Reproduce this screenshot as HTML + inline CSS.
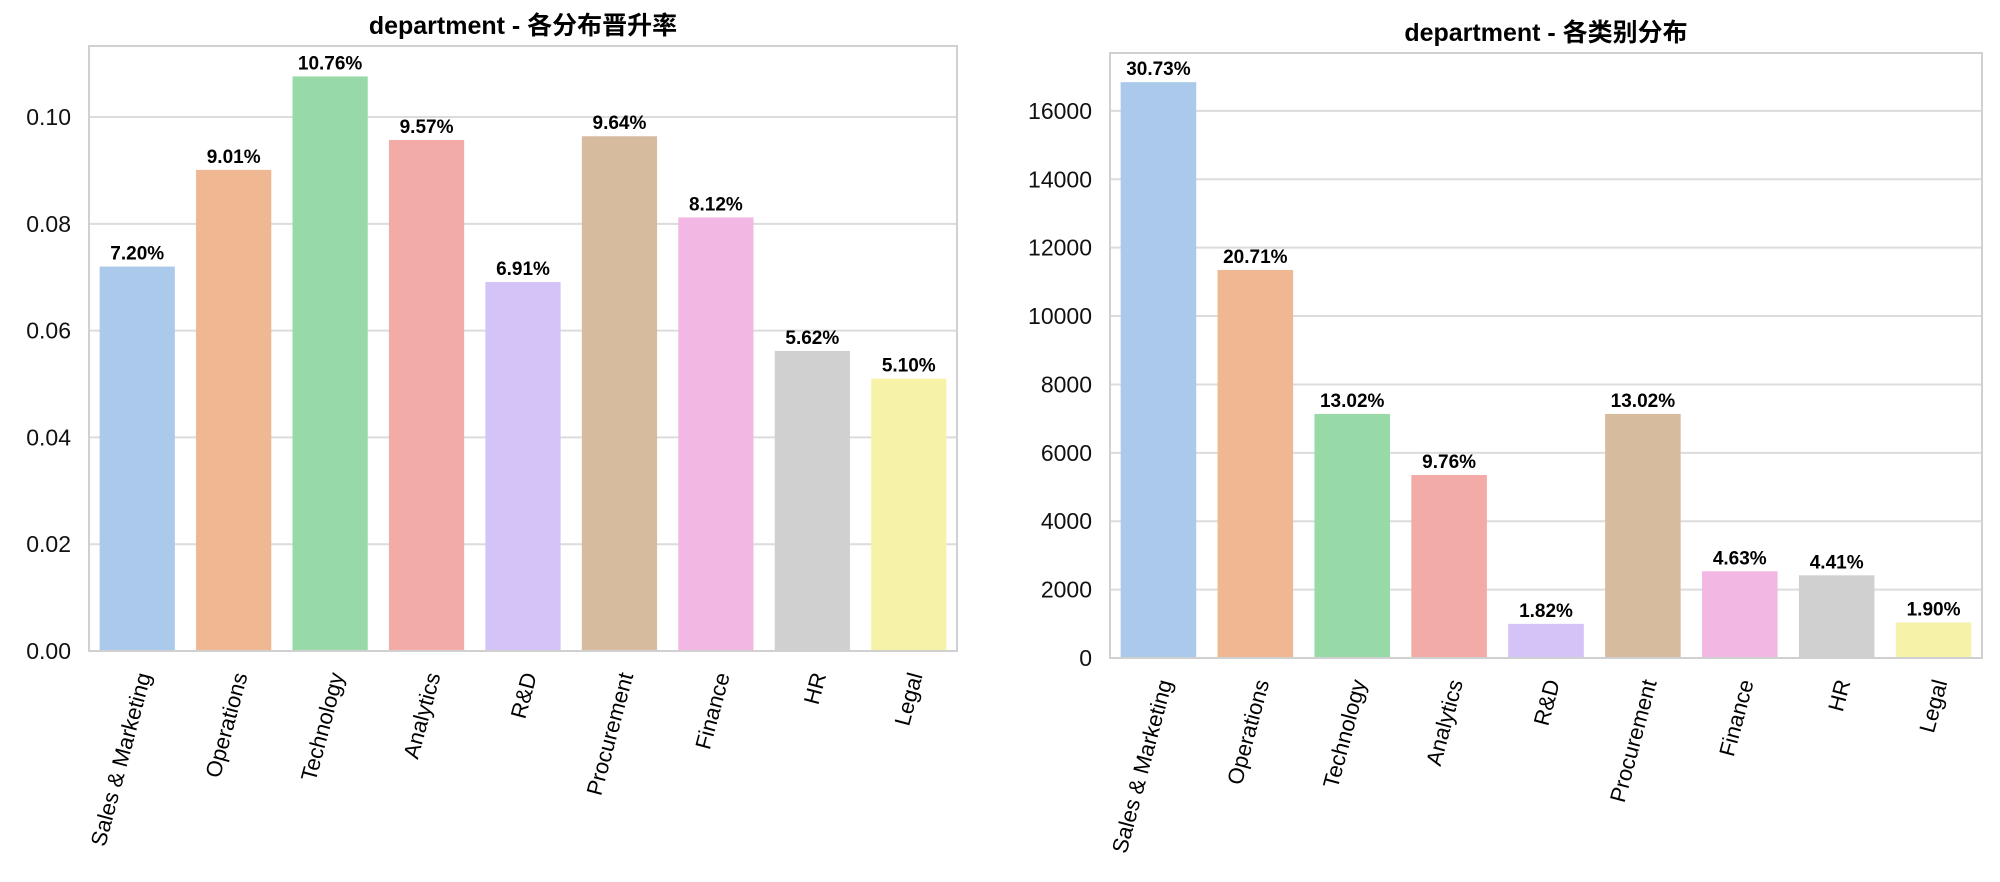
<!DOCTYPE html>
<html><head><meta charset="utf-8">
<style>
html,body{margin:0;padding:0;background:#fff;}
svg{display:block;font-family:"Liberation Sans","Noto Sans CJK SC",sans-serif;}
</style></head>
<body>
<svg id="chart" width="2000" height="882" viewBox="0 0 2000 882" xmlns="http://www.w3.org/2000/svg"></svg>
<script>
const categories = ["Sales & Marketing","Operations","Technology","Analytics","R&D","Procurement","Finance","HR","Legal"];
const promotionRates = [0.0720,0.0901,0.1076,0.0957,0.0691,0.0964,0.0812,0.0562,0.0510];
const rateLabels = ["7.20%","9.01%","10.76%","9.57%","6.91%","9.64%","8.12%","5.62%","5.10%"];
const counts = [16840,11348,7138,5352,999,7138,2536,2418,1039];
const countLabels = ["30.73%","20.71%","13.02%","9.76%","1.82%","13.02%","4.63%","4.41%","1.90%"];
const leftTicks = [0,0.02,0.04,0.06,0.08,0.10];
const leftTickLabels = ["0.00","0.02","0.04","0.06","0.08","0.10"];
const rightTicks = [0,2000,4000,6000,8000,10000,12000,14000,16000];
const rightTickLabels = ["0","2000","4000","6000","8000","10000","12000","14000","16000"];
const barColors = ["#abc9ea","#efb792","#98daa7","#f3aba8","#d3c3f7","#d7bb9f","#f2b7e2","#d0d0d0","#f6f3a8"];

const svg = document.getElementById('chart');
const NS = "http://www.w3.org/2000/svg";
function mk(tag, attrs, parent){
  const e = document.createElementNS(NS, tag);
  for (const k in attrs) e.setAttribute(k, attrs[k]);
  (parent||svg).appendChild(e);
  return e;
}

function drawPanel(cfg){
  const g = mk('g', {});
  
  
  const {x0,x1,yTop,yBot,ymax} = cfg;
  const ys = v => yBot - (v/ymax)*(yBot-yTop);
  const band = (x1-x0)/categories.length;
  const xc = i => x0 + band*(i+0.5);
  cfg.ticks.forEach((t,i)=>{
    const y = ys(t);
    if (t>0){
      const gl = mk('line',{x1:x0,x2:x1,y1:y,y2:y,stroke:'#dcdcdc','stroke-width':2},g);
      
      
    }
    const tl = mk('text',{x:x0-18,y:y+8,'text-anchor':'end','font-size':23,fill:'#111'},g);
    tl.textContent = cfg.tickLabels[i];
    
    
  });
  cfg.values.forEach((v,i)=>{
    const w = band*0.78;
    const b = mk('rect',{x:xc(i)-w/2,y:ys(v),width:w,height:yBot-ys(v),fill:barColors[i]},g);
    
    
    const lb = mk('text',{x:xc(i),y:ys(v)-7,'text-anchor':'middle','font-size':19,'font-weight':'bold',fill:'#000'},g);
    lb.textContent = cfg.labels[i];
    
    
    const cl = mk('text',{x:0,y:0,'text-anchor':'end','font-size':22,fill:'#000',
      transform:`translate(${xc(i)+14},${yBot+24}) rotate(-75)`},g);
    cl.textContent = categories[i];
    
    
  });
  const fr = mk('rect',{x:x0,y:yTop,width:x1-x0,height:yBot-yTop,fill:'none',stroke:'#d0d0d0','stroke-width':2},g);
  
  
  const tt = mk('text',{x:(x0+x1)/2,y:yTop-12,'text-anchor':'middle','font-size':25,'font-weight':'bold',fill:'#000'},g);
  tt.textContent = cfg.title;
  
  
}

drawPanel({name:'promotion-rate-panel',x0:89,x1:957,yTop:46,yBot:651,ymax:0.1133,
  values:promotionRates,labels:rateLabels,ticks:leftTicks,tickLabels:leftTickLabels,
  title:'department - 各分布晋升率'});
drawPanel({name:'distribution-panel',x0:1110,x1:1982,yTop:53,yBot:658,ymax:17693,
  values:counts,labels:countLabels,ticks:rightTicks,tickLabels:rightTickLabels,
  title:'department - 各类别分布'});
</script>
</body></html>
